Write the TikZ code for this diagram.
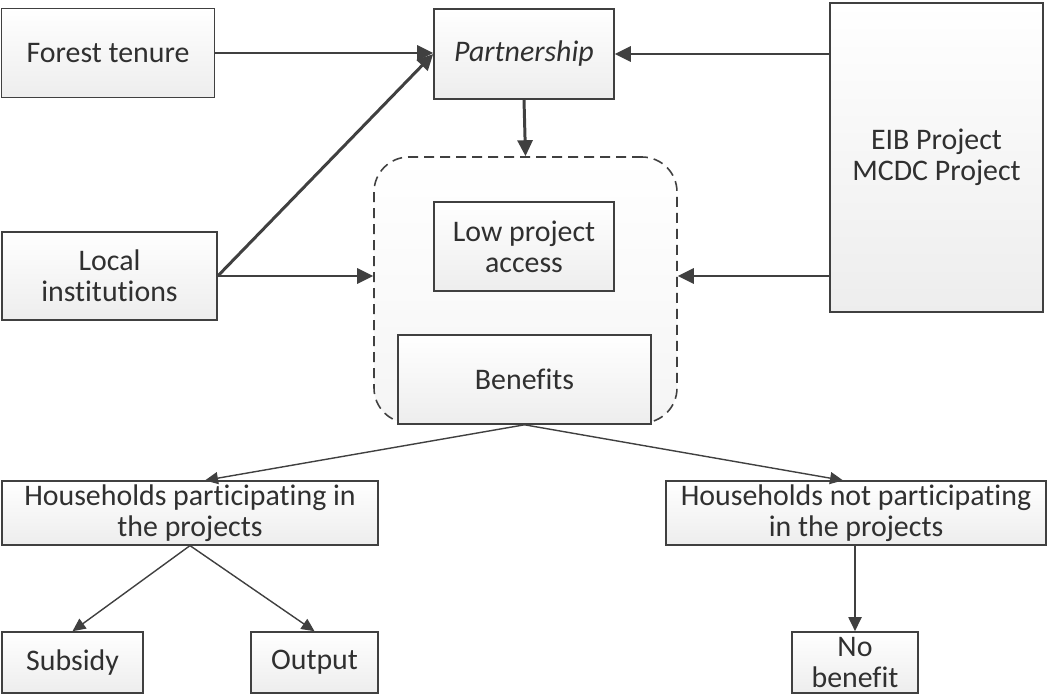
\documentclass[tikz,border=0pt]{standalone}
\usepackage{fontspec}
\setmainfont{Carlito}[Ligatures=NoCommon]
\usepackage{tikz}
\usetikzlibrary{arrows.meta, positioning, calc}

\definecolor{linegray}{HTML}{404040}
\definecolor{textgray}{HTML}{303030}

\begin{document}
\begin{tikzpicture}[
    box/.style={rectangle, draw=linegray, line width=0.9pt, align=center,
                top color=white, bottom color=gray!14, text=textgray,
                font=\fontsize{17}{17.5}\selectfont, inner sep=2pt},
    group/.style={rectangle, draw=linegray, line width=0.9pt,
                  dash pattern=on 0.2cm off 0.12cm, rounded corners=0.7cm,
                  top color=white, bottom color=gray!8},
    arr/.style={-{Triangle[length=3.2mm, width=3mm]}, line width=1.7pt, draw=linegray},
    thinarr/.style={-{Triangle[length=2.6mm, width=2.4mm]}, line width=0.8pt, draw=linegray},
    midarr/.style={-{Triangle[length=2.8mm, width=2.6mm]}, line width=1.1pt, draw=linegray},
]
    \useasboundingbox (0,0) rectangle (20.94,-13.86);

    % Inputs
    \node[box, minimum width=4.26cm, minimum height=1.78cm] (forest) at (2.16,-1.06) {Forest tenure};
    \node[box, minimum width=4.3cm, minimum height=1.76cm] (local) at (2.19,-5.52) {Local\\institutions};
    \node[box, minimum width=3.6cm, minimum height=1.8cm] (partner) at (10.48,-1.08) {\itshape Partnership};
    \node[box, minimum width=4.26cm, minimum height=6.18cm] (eib) at (18.73,-3.15) {EIB Project\\MCDC Project};

    % Dashed group
    \node[group, minimum width=6.06cm, minimum height=5.32cm] (grp) at (10.51,-5.8) {};
    \node[box, minimum width=3.6cm, minimum height=1.78cm] (low) at (10.48,-4.93) {Low project\\access};
    \node[box, minimum width=5.06cm, minimum height=1.78cm] (benefits) at (10.49,-7.59) {Benefits};

    % Households
    \node[box, minimum width=7.52cm, minimum height=1.2cm] (hhp) at (3.8,-10.26) {Households participating in\\the projects};
    \node[box, minimum width=7.6cm, minimum height=1.2cm] (hhn) at (17.12,-10.26) {Households not participating\\in the projects};

    % Outcomes
    \node[box, minimum width=2.82cm, minimum height=1.22cm] (subsidy) at (1.45,-13.25) {Subsidy};
    \node[box, minimum width=2.54cm, minimum height=1.22cm] (output) at (6.29,-13.25) {Output};
    \node[box, minimum width=2.52cm, minimum height=1.22cm] (nobenefit) at (17.1,-13.25) {No\\benefit};

    % Arrows into partnership
    \draw[arr] (forest.east) -- (forest.east -| partner.west);
    \draw[arr] (local.east) -- (partner.west);
    \draw[arr] (eib.west |- partner.east) -- (partner.east);

    % Arrows into group
    \draw[arr] (partner.south) -- (grp.north);
    \draw[arr] (local.east) -- (local.east -| grp.west);
    \draw[arr] (eib.west |- local.east) -- (grp.east |- local.east);

    % Arrows: benefits -> households
    \draw[thinarr] (benefits.south) -- ([xshift=0.3cm]hhp.north);
    \draw[thinarr] (benefits.south) -- ([xshift=-0.26cm]hhn.north);

    % Arrows: households -> outcomes
    \foreach \out in {subsidy, output} {
        \draw[thinarr] (hhp.south) -- (\out.north);
    }
    \draw[midarr] (hhn.south -| nobenefit.north) -- (nobenefit.north);
\end{tikzpicture}
\end{document}
